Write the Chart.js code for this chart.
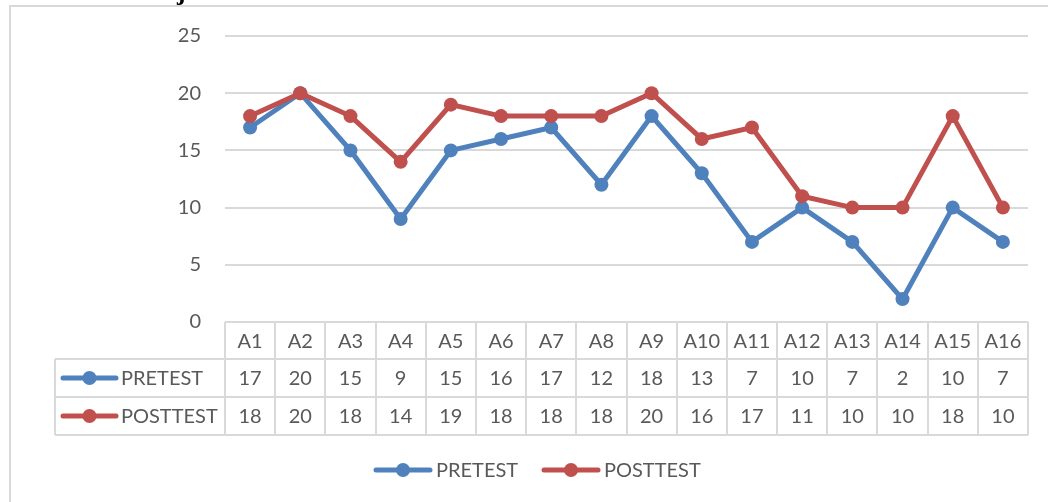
<!DOCTYPE html>
<html>
<head>
<meta charset="utf-8">
<script src="https://cdn.jsdelivr.net/npm/chart.js@4/dist/chart.umd.min.js"></script>
<style>
  html, body { margin:0; padding:0; background:#fff; }
  #wrap { width:1048px; height:502px; position:relative; }
</style>
</head>
<body>
<div id="wrap"><canvas id="chart" width="1048" height="502"></canvas></div>
<script>
// ── Data ──────────────────────────────────────────────────────
const categories = ['A1','A2','A3','A4','A5','A6','A7','A8','A9','A10','A11','A12','A13','A14','A15','A16'];
const pretest    = [17,20,15,9,15,16,17,12,18,13,7,10,7,2,10,7];
const posttest   = [18,20,18,14,19,18,18,18,20,16,17,11,10,10,18,10];
const yTicks     = [0,5,10,15,20,25];

const C = { blue:'#4f81bd', red:'#c0504d', grid:'#d9d9d9', text:'#595959' };
const FONT = 'Lato, "Open Sans", sans-serif';

const series = [
  { label:'PRETEST',  data:pretest,  color:C.blue },
  { label:'POSTTEST', data:posttest, color:C.red  },
];

// legend glyph: line with a dot in the middle
function glyph(ctx, x0, x1, y, color) {
  ctx.save();
  ctx.strokeStyle = color; ctx.lineWidth = 5; ctx.lineCap = 'round';
  ctx.beginPath(); ctx.moveTo(x0, y); ctx.lineTo(x1, y); ctx.stroke();
  ctx.fillStyle = color;
  ctx.beginPath(); ctx.arc((x0 + x1) / 2, y, 7, 0, Math.PI * 2); ctx.fill();
  ctx.restore();
}

// ── Data table + frame + legend ───────────────────────────────
const tablePlugin = {
  id: 'dataTable',
  afterDraw(chart) {
    const ctx = chart.ctx, xs = chart.scales.x, a = chart.chartArea;
    const colW = (a.right - a.left) / categories.length;
    const rows = [a.bottom, 359, 397, 435];
    const labelLeft = 55;

    ctx.save();
    // outer chart frame
    ctx.strokeStyle = C.grid; ctx.lineWidth = 2;
    ctx.strokeRect(10, 6, 1100, 600);

    // table grid
    ctx.lineWidth = 2;
    ctx.beginPath();
    ctx.moveTo(a.left, rows[0]); ctx.lineTo(a.right, rows[0]);
    for (let r = 1; r < rows.length; r++) { ctx.moveTo(labelLeft, rows[r]); ctx.lineTo(a.right, rows[r]); }
    ctx.moveTo(labelLeft, rows[1]); ctx.lineTo(labelLeft, rows[3]);
    for (let i = 0; i <= categories.length; i++) {
      const x = Math.round(a.left + i * colW);
      ctx.moveTo(x, rows[0]); ctx.lineTo(x, rows[3]);
    }
    ctx.stroke();

    // cells
    ctx.fillStyle = C.text;
    ctx.font = '20px ' + FONT;
    ctx.textAlign = 'center'; ctx.textBaseline = 'middle';
    categories.forEach((c, i) => {
      const x = xs.getPixelForValue(i);
      ctx.fillText(c, x, (rows[0] + rows[1]) / 2 + 1);
      series.forEach((s, k) => ctx.fillText(String(s.data[i]), x, (rows[k+1] + rows[k+2]) / 2 + 1));
    });
    series.forEach((s, k) => {
      const y = (rows[k+1] + rows[k+2]) / 2;
      glyph(ctx, 63, 116, y, s.color);
      ctx.fillStyle = C.text; ctx.textAlign = 'left';
      ctx.fillText(s.label, 121, y + 1);
    });

    // bottom legend
    const ly = 470;
    [[376, 430, 436], [544, 598, 604]].forEach(([x0, x1, tx], k) => {
      glyph(ctx, x0, x1, ly, series[k].color);
      ctx.fillStyle = C.text; ctx.textAlign = 'left';
      ctx.fillText(series[k].label, tx, ly + 1);
    });

    // clipped heading fragment at the very top
    ctx.fillStyle = '#000';
    ctx.font = 'bold 26px "Liberation Serif", serif';
    ctx.textBaseline = 'alphabetic';
    ctx.fillText('j', 177, 0);
    ctx.restore();
  }
};

// ── Chart ─────────────────────────────────────────────────────
new Chart(document.getElementById('chart'), {
  type: 'line',
  data: {
    labels: categories,
    datasets: series.map((s, k) => ({
      label: s.label, data: s.data,
      borderColor: s.color, backgroundColor: s.color,
      borderWidth: 5, pointRadius: 7, pointHoverRadius: 7,
      pointBackgroundColor: s.color, pointBorderWidth: 0,
      tension: 0, order: k === 0 ? 1 : 0,
    })),
  },
  options: {
    responsive: false, animation: false,
    layout: { padding: { left: 0, right: 20, top: 35, bottom: 180 } },
    plugins: { legend: { display: false }, tooltip: { enabled: false } },
    scales: {
      x: { display: false, offset: true },
      y: {
        min: 0, max: 25,
        afterFit: s => { s.width = 225; },
        afterBuildTicks: s => { s.ticks = yTicks.map(v => ({ value: v })); },
        border: { display: false },
        grid: { color: C.grid, lineWidth: 2, drawTicks: false },
        ticks: { color: C.text, padding: 24, font: { family: FONT, size: 20 } },
      },
    },
  },
  plugins: [tablePlugin],
});
</script>
</body>
</html>
